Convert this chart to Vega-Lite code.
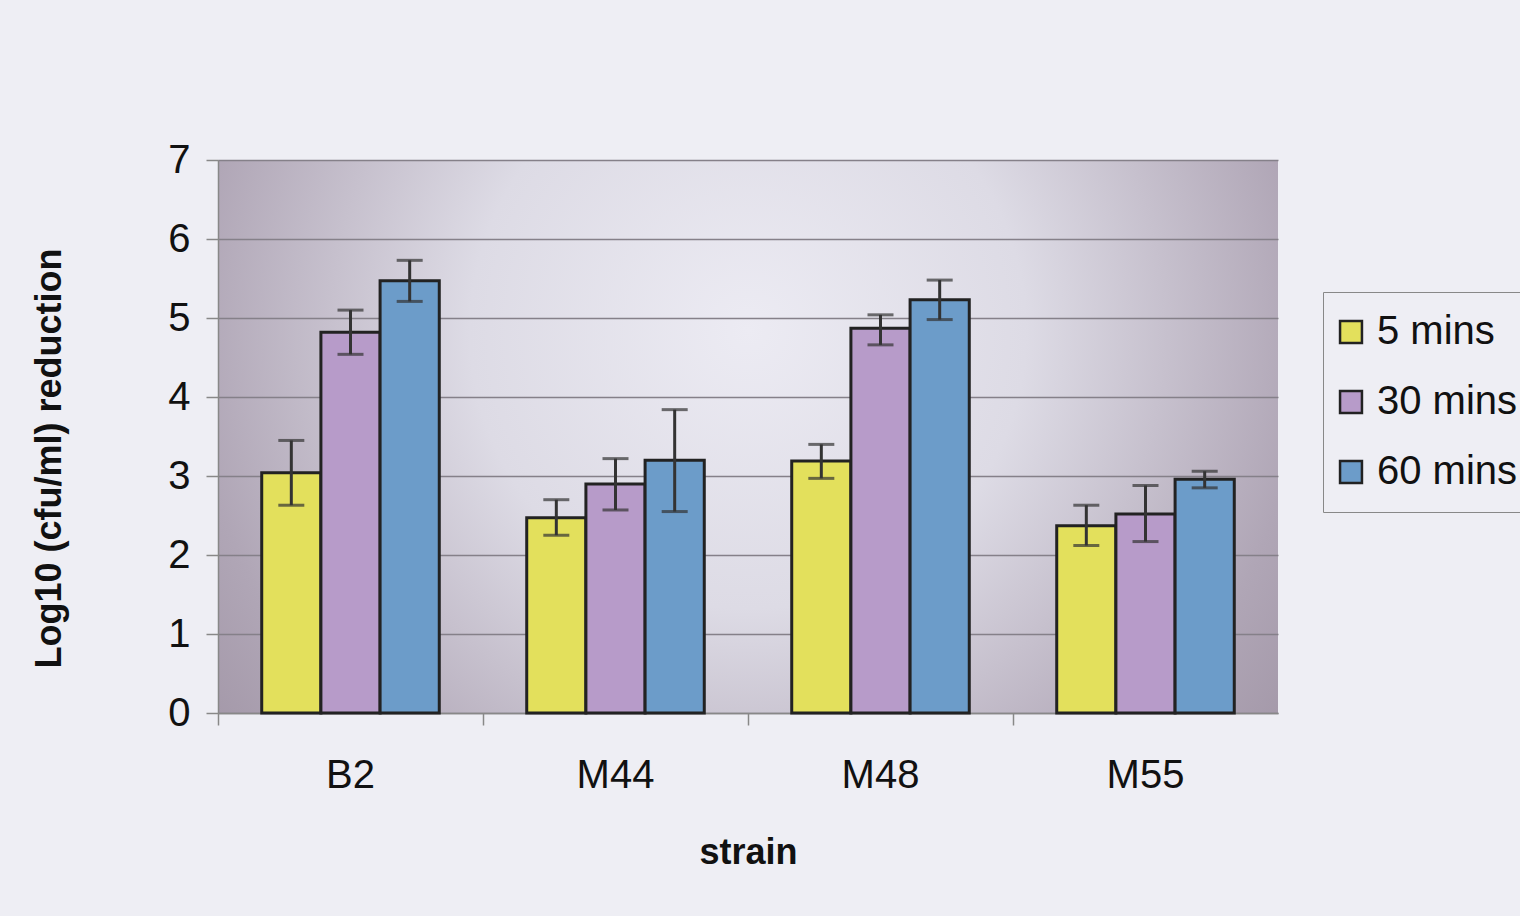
{
  "$schema": "https://vega.github.io/schema/vega-lite/v6.json",
  "autosize": "none",
  "width": 1060,
  "height": 553,
  "padding": {"left": 218, "top": 160, "right": 242, "bottom": 203},
  "background": "#eeeef4",
  "data": {"values": [
    {"strain": "B2", "time": "5 mins", "mean": 3.04, "lo": 2.63, "hi": 3.45},
    {"strain": "B2", "time": "30 mins", "mean": 4.82, "lo": 4.54, "hi": 5.10},
    {"strain": "B2", "time": "60 mins", "mean": 5.47, "lo": 5.21, "hi": 5.73},
    {"strain": "M44", "time": "5 mins", "mean": 2.47, "lo": 2.25, "hi": 2.70},
    {"strain": "M44", "time": "30 mins", "mean": 2.90, "lo": 2.57, "hi": 3.22},
    {"strain": "M44", "time": "60 mins", "mean": 3.20, "lo": 2.55, "hi": 3.84},
    {"strain": "M48", "time": "5 mins", "mean": 3.19, "lo": 2.97, "hi": 3.40},
    {"strain": "M48", "time": "30 mins", "mean": 4.87, "lo": 4.66, "hi": 5.04},
    {"strain": "M48", "time": "60 mins", "mean": 5.23, "lo": 4.98, "hi": 5.48},
    {"strain": "M55", "time": "5 mins", "mean": 2.37, "lo": 2.12, "hi": 2.63},
    {"strain": "M55", "time": "30 mins", "mean": 2.52, "lo": 2.17, "hi": 2.88},
    {"strain": "M55", "time": "60 mins", "mean": 2.96, "lo": 2.85, "hi": 3.06}
  ]},
  "config": {
    "font": "Liberation Sans",
    "view": {
      "stroke": null,
      "fill": {
        "gradient": "radial",
        "x1": 0.5, "y1": 0.4, "r1": 0,
        "x2": 0.5, "y2": 0.4, "r2": 0.75,
        "stops": [
          {"offset": 0, "color": "#ecebf3"},
          {"offset": 0.35, "color": "#dddbe5"},
          {"offset": 0.7, "color": "#b0a6b6"},
          {"offset": 1, "color": "#958899"}
        ]
      }
    }
  },
  "encoding": {
    "x": {
      "field": "strain", "type": "nominal",
      "scale": {"paddingInner": 0.33, "paddingOuter": 0.165},
      "axis": {
        "title": "strain", "titleFontSize": 36, "titleFontWeight": "bold", "titleColor": "#111",
        "titlePadding": 40,
        "labelAngle": 0, "labelFontSize": 40, "labelColor": "#111", "labelPadding": 30,
        "bandPosition": -0.246, "tickSize": 12, "tickColor": "#888", "tickWidth": 1.5,
        "domainColor": "#888", "domainWidth": 1.5, "grid": false
      }
    },
    "xOffset": {"field": "time", "type": "nominal", "sort": ["5 mins", "30 mins", "60 mins"], "scale": {"paddingInner": 0}}
  },
  "layer": [
    {
      "mark": {"type": "bar", "stroke": "#222", "strokeWidth": 3},
      "encoding": {
        "y": {
          "field": "mean", "type": "quantitative",
          "scale": {"domain": [0, 7], "nice": false},
          "axis": {
            "title": "Log10 (cfu/ml) reduction", "titleFontSize": 36, "titleFontWeight": "bold", "titleColor": "#111",
            "titleX": -150, "titleY": 298, "titleAngle": 270, "titleBaseline": "bottom", "titleAlign": "center",
            "values": [0, 1, 2, 3, 4, 5, 6, 7], "format": "d", "labelFontSize": 40, "labelColor": "#111", "labelPadding": 16,
            "tickSize": 12, "tickColor": "#888", "tickWidth": 1.5,
            "domainColor": "#888", "domainWidth": 1.5,
            "gridColor": "#858089", "gridWidth": 1.5
          }
        },
        "color": {
          "field": "time", "type": "nominal",
          "sort": ["5 mins", "30 mins", "60 mins"],
          "scale": {"domain": ["5 mins", "30 mins", "60 mins"], "range": ["#e3e05c", "#b79bc9", "#6c9cc9"]},
          "legend": {
            "title": null, "orient": "none", "legendX": 1105, "legendY": 132,
            "labelFontSize": 40, "labelColor": "#111", "labelOffset": 6,
            "symbolType": "square", "symbolSize": 480, "symbolStrokeColor": "#222", "symbolStrokeWidth": 2.5,
            "symbolOffset": -12,
            "rowPadding": 30, "padding": 20, "strokeColor": "#888", "fillColor": "#eeeef4"
          }
        }
      }
    },
    {
      "mark": {"type": "rule", "color": "#333", "strokeWidth": 3},
      "encoding": {
        "y": {"field": "lo", "type": "quantitative"},
        "y2": {"field": "hi"}
      }
    },
    {
      "mark": {"type": "tick", "color": "#333", "thickness": 3, "size": 26},
      "encoding": {"y": {"field": "lo", "type": "quantitative"}}
    },
    {
      "mark": {"type": "tick", "color": "#333", "thickness": 3, "size": 26},
      "encoding": {"y": {"field": "hi", "type": "quantitative"}}
    }
  ]
}
